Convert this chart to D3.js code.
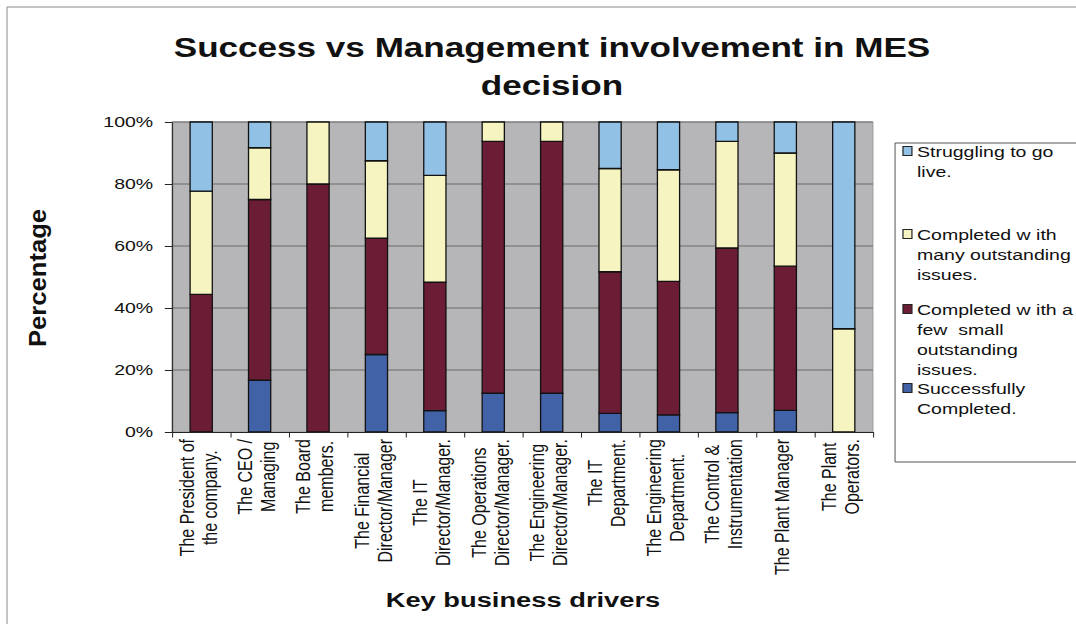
<!DOCTYPE html>
<html>
<head>
<meta charset="utf-8">
<script src="https://cdn.jsdelivr.net/npm/d3@7"></script>
<style>
  html, body { margin: 0; padding: 0; background: #ffffff; }
  svg { display: block; }
  text { font-family: "Liberation Sans", Arial, Helvetica, sans-serif; fill: #111; }
</style>
</head>
<body>
<svg id="chart" width="1076" height="624"></svg>
<script>
// ---- data -------------------------------------------------------------
const categories = [
  ["The President of", "the company."],
  ["The CEO /", "Managing"],
  ["The Board", "members."],
  ["The Financial", "Director/Manager"],
  ["The IT", "Director/Manager."],
  ["The Operations", "Director/Manager."],
  ["The Engineering", "Director/Manager."],
  ["The IT", "Department."],
  ["The Engineering", "Department."],
  ["The Control &", "Instrumentation"],
  ["The Plant Manager"],
  ["The Plant", "Operators."]
];

// percentages of respondents per group (stacked bottom to top)
const successfullyCompleted = [0, 16.7, 0, 25, 6.9, 12.5, 12.5, 6, 5.5, 6.25, 7, 0];
const completedFewIssues    = [44.4, 58.3, 80, 37.5, 41.4, 81.25, 81.25, 45.7, 43.1, 53.1, 46.5, 0];
const completedManyIssues   = [33.3, 16.7, 20, 25, 34.5, 6.25, 6.25, 33.3, 36, 34.4, 36.5, 33.3];
const strugglingToGoLive    = [22.3, 8.3, 0, 12.5, 17.2, 0, 0, 15, 15.4, 6.25, 10, 66.7];

const seriesKeys = ["success", "few", "many", "struggling"];
const seriesColors = ["#4262a8", "#6b1d35", "#f6f5c2", "#92c1e6"];

// legend entries, top to bottom, as wrapped lines
const legendLabels = [
  ["Struggling to go", "live."],
  ["Completed w ith", "many outstanding", "issues."],
  ["Completed w ith a", "few  small", "outstanding", "issues."],
  ["Successfully", "Completed."]
];
const legendKeys = ["struggling", "many", "few", "success"];

const yTickValues = [0, 0.2, 0.4, 0.6, 0.8, 1];
const yTickLabels = ["0%", "20%", "40%", "60%", "80%", "100%"];

const titleLines = ["Success vs Management involvement in MES", "decision"];
const xTitle = "Key business drivers";
const yTitle = "Percentage";

// ---- layout -----------------------------------------------------------
// The whole drawing is composed in a narrower frame and stretched sideways.
const SX = 1.3;
const frameW = 1076 / SX;
const plot = { left: 132.3, right: 671.5, top: 122, bottom: 432 };

const svg = d3.select("#chart");
const root = svg.append("g").attr("transform", `scale(${SX},1)`);

// outer chart border
root.append("rect")
  .attr("x", 5.4).attr("y", 7)
  .attr("width", frameW + 20).attr("height", 700)
  .attr("fill", "none").attr("stroke", "#8a8a8a")
  .attr("stroke-width", 1).attr("vector-effect", "non-scaling-stroke");

// ---- scales -----------------------------------------------------------
const x = d3.scaleBand()
  .domain(d3.range(categories.length))
  .range([plot.left, plot.right])
  .paddingInner(0.62)
  .paddingOuter(0.31);

const y = d3.scaleLinear().domain([0, 1]).range([plot.bottom, plot.top]);

const rows = categories.map((c, i) => ({
  idx: i,
  success: successfullyCompleted[i],
  few: completedFewIssues[i],
  many: completedManyIssues[i],
  struggling: strugglingToGoLive[i]
}));

const stacked = d3.stack().keys(seriesKeys).offset(d3.stackOffsetExpand)(rows);
const color = d3.scaleOrdinal().domain(seriesKeys).range(seriesColors);

// ---- plot area --------------------------------------------------------
root.append("rect")
  .attr("x", plot.left).attr("y", plot.top)
  .attr("width", plot.right - plot.left).attr("height", plot.bottom - plot.top)
  .attr("fill", "#b6b6b8")
  .attr("stroke", "#9c9c9c").attr("stroke-width", 1)
  .attr("vector-effect", "non-scaling-stroke");

// horizontal gridlines
root.append("g")
  .selectAll("line")
  .data(yTickValues.filter(v => v > 0))
  .join("line")
  .attr("x1", plot.left).attr("x2", plot.right)
  .attr("y1", d => y(d)).attr("y2", d => y(d))
  .attr("stroke", "#6a6a6a").attr("stroke-width", 1)
  .attr("vector-effect", "non-scaling-stroke");

// stacked bars
root.append("g")
  .selectAll("g")
  .data(stacked)
  .join("g")
  .attr("fill", d => color(d.key))
  .selectAll("rect")
  .data(d => d.filter(s => s[1] - s[0] > 0))
  .join("rect")
  .attr("x", d => x(d.data.idx))
  .attr("width", x.bandwidth())
  .attr("y", d => y(d[1]))
  .attr("height", d => y(d[0]) - y(d[1]))
  .attr("stroke", "#111")
  .attr("stroke-width", 1.3)
  .attr("vector-effect", "non-scaling-stroke");

// ---- axes -------------------------------------------------------------
const yAxis = d3.axisLeft(y)
  .tickValues(yTickValues)
  .tickFormat((d, i) => yTickLabels[i])
  .tickSizeInner(5.5)
  .tickSizeOuter(0)
  .tickPadding(9);

const yAxisG = root.append("g")
  .attr("transform", `translate(${plot.left},0)`)
  .call(yAxis);
yAxisG.selectAll("line, path")
  .attr("stroke", "#222").attr("vector-effect", "non-scaling-stroke");
yAxisG.selectAll("text")
  .attr("font-size", 15)
  .attr("font-family", "Liberation Sans, Arial, sans-serif")
  .attr("fill", "#111");

// category boundary ticks along the bottom
const xEdges = d3.scaleLinear().domain([0, categories.length]).range([plot.left, plot.right]);
const xAxisG = root.append("g")
  .attr("transform", `translate(0,${plot.bottom})`)
  .call(d3.axisBottom(xEdges).ticks(categories.length).tickFormat("").tickSizeInner(5.5).tickSizeOuter(0));
xAxisG.selectAll("line, path")
  .attr("stroke", "#222").attr("vector-effect", "non-scaling-stroke");

// category labels, rotated, wrapped lines centred on each bar
const lineStep = 17.7;
const labelTop = 439;
const catG = root.append("g").selectAll("g")
  .data(categories)
  .join("g");

catG.each(function (lines, i) {
  const g = d3.select(this);
  const cx = x(i) + x.bandwidth() / 2;
  const texts = g.selectAll("text")
    .data(lines)
    .join("text")
    .attr("font-size", 16)
    .attr("text-anchor", "middle")
    .text(d => d);
  let maxLen = 0;
  texts.each(function () { maxLen = Math.max(maxLen, this.getComputedTextLength()); });
  const cy = labelTop + maxLen / 2;
  texts.attr("transform", (d, k) => {
    const bx = cx + 3 + (k - (lines.length - 1) / 2) * lineStep;
    return `translate(${bx},${cy}) rotate(-90)`;
  });
});

// ---- titles -----------------------------------------------------------
root.append("g").selectAll("text")
  .data(titleLines)
  .join("text")
  .attr("x", 424.6)
  .attr("y", (d, i) => 57 + i * 38)
  .attr("text-anchor", "middle")
  .attr("font-size", 27)
  .attr("font-weight", "bold")
  .text(d => d);

root.append("text")
  .attr("x", 402.3).attr("y", 607)
  .attr("text-anchor", "middle")
  .attr("font-size", 21)
  .attr("font-weight", "bold")
  .text(xTitle);

root.append("text")
  .attr("transform", "translate(35.4,278) rotate(-90) scale(1.35,1)")
  .attr("text-anchor", "middle")
  .attr("font-size", 19)
  .attr("font-weight", "bold")
  .text(yTitle);

// ---- legend -----------------------------------------------------------
root.append("rect")
  .attr("x", 688.5).attr("y", 143)
  .attr("width", 200).attr("height", 319)
  .attr("fill", "#ffffff")
  .attr("stroke", "#555").attr("stroke-width", 1)
  .attr("vector-effect", "non-scaling-stroke");

const legendBaselines = [157, 240, 315, 394];
const legendLineStep = 20;

const legItem = root.append("g").selectAll("g")
  .data(legendKeys)
  .join("g")
  .attr("transform", (d, i) => `translate(0,${legendBaselines[i]})`);

legItem.append("rect")
  .attr("x", 694.6).attr("y", -10.5)
  .attr("width", 6.9).attr("height", 9)
  .attr("fill", d => color(d))
  .attr("stroke", "#222").attr("stroke-width", 1.2)
  .attr("vector-effect", "non-scaling-stroke");

legItem.each(function (key, i) {
  d3.select(this).selectAll("text")
    .data(legendLabels[i])
    .join("text")
    .attr("x", 705.4)
    .attr("y", (d, k) => k * legendLineStep)
    .attr("font-size", 15)
    .attr("xml:space", "preserve")
    .style("white-space", "pre")
    .text(d => d);
});
</script>
</body>
</html>
